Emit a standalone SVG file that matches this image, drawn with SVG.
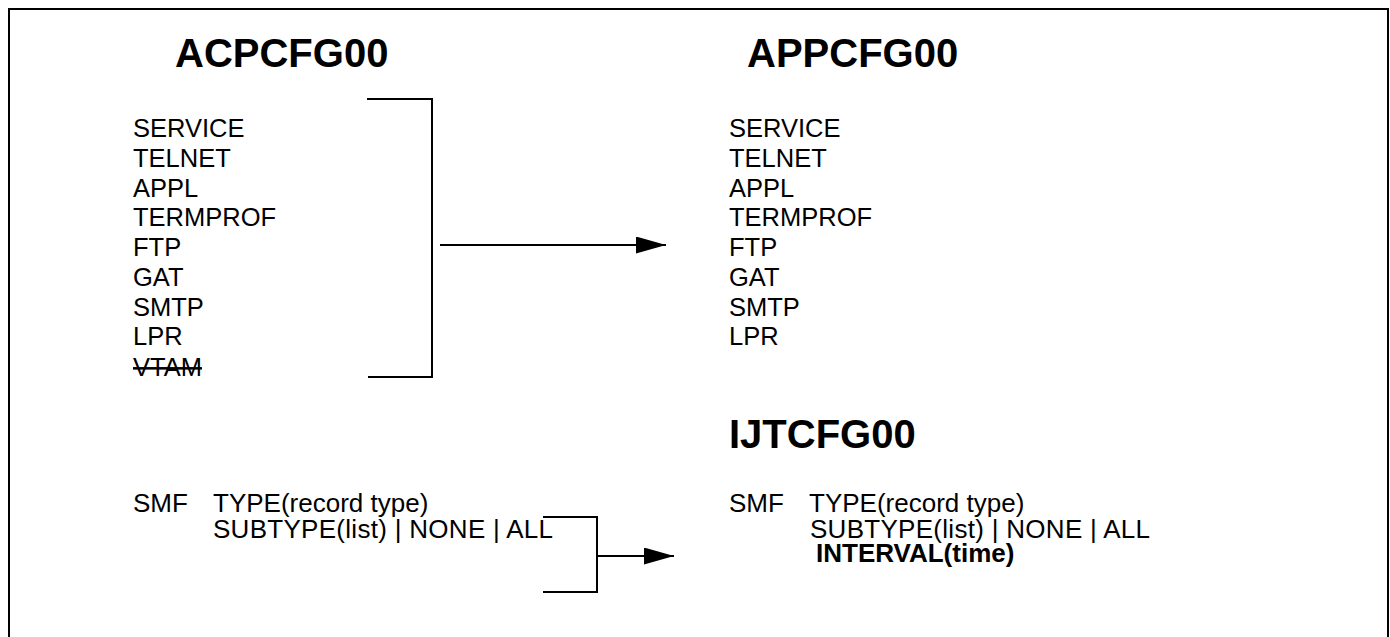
<svg xmlns="http://www.w3.org/2000/svg" width="1390" height="637" viewBox="0 0 1390 637">
<style>
.t{font-family:"Liberation Sans",Arial,sans-serif;font-size:40px;font-weight:bold;fill:#000}
.i{font-family:"Liberation Sans",Arial,sans-serif;font-size:25.5px;fill:#000}
.s{font-family:"Liberation Sans",Arial,sans-serif;font-size:26px;fill:#000}
.b{font-weight:bold}
.ln{fill:none;stroke:#000;stroke-width:2}
</style>
<defs>
<marker id="ah" markerWidth="30" markerHeight="17" refX="30" refY="8.5" orient="auto" markerUnits="userSpaceOnUse">
<path d="M0,0 L30,8.5 L0,17 Z" fill="#000"/>
</marker>
</defs>
<rect x="9" y="9" width="1379" height="700" fill="#fff" stroke="#000" stroke-width="2"/>
<g id="acpcfg00">
<text class="t" x="175" y="67">ACPCFG00</text>
<text class="i" x="133" y="137">SERVICE</text>
<text class="i" x="133" y="166.75">TELNET</text>
<text class="i" x="133" y="196.5">APPL</text>
<text class="i" x="133" y="226.25">TERMPROF</text>
<text class="i" x="133" y="256">FTP</text>
<text class="i" x="133" y="285.75">GAT</text>
<text class="i" x="133" y="315.5">SMTP</text>
<text class="i" x="133" y="345.25">LPR</text>
<text class="i" x="133" y="376" text-decoration="line-through">VTAM</text>
</g>
<g id="appcfg00">
<text class="t" x="747" y="67">APPCFG00</text>
<text class="i" x="729" y="137">SERVICE</text>
<text class="i" x="729" y="166.75">TELNET</text>
<text class="i" x="729" y="196.5">APPL</text>
<text class="i" x="729" y="226.25">TERMPROF</text>
<text class="i" x="729" y="256">FTP</text>
<text class="i" x="729" y="285.75">GAT</text>
<text class="i" x="729" y="315.5">SMTP</text>
<text class="i" x="729" y="345.25">LPR</text>
</g>
<g id="smf-left">
<text class="s" y="512"><tspan x="133">SMF</tspan><tspan x="213">TYPE(record type)</tspan></text>
<text class="s" x="213" y="538" textLength="340" lengthAdjust="spacing">SUBTYPE(list) | NONE | ALL</text>
</g>
<g id="ijtcfg00">
<text class="t" x="729" y="448">IJTCFG00</text>
<text class="s" y="512"><tspan x="729">SMF</tspan><tspan x="809">TYPE(record type)</tspan></text>
<text class="s" x="810" y="538" textLength="340" lengthAdjust="spacing">SUBTYPE(list) | NONE | ALL</text>
<text class="s b" x="816" y="562">INTERVAL(time)</text>
</g>
<g id="connectors">
<polyline class="ln" points="367,99 432,99 432,377 368,377"/>
<line class="ln" x1="440" y1="245" x2="666" y2="245" marker-end="url(#ah)"/>
<polyline class="ln" points="543,517 597,517 597,592 543,592"/>
<line class="ln" x1="597" y1="556" x2="674" y2="556" marker-end="url(#ah)"/>
</g>
</svg>
